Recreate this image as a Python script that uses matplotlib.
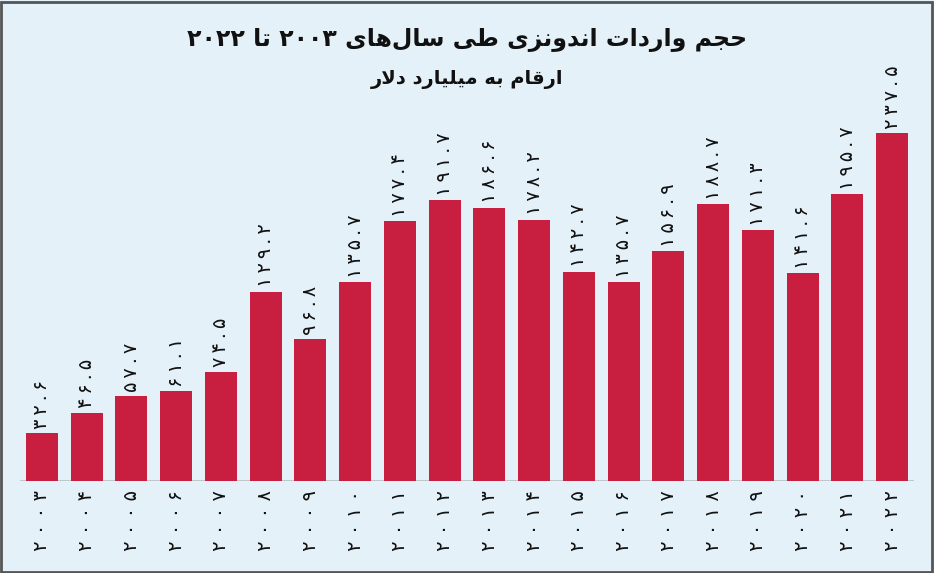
import matplotlib
matplotlib.use('Agg')
import matplotlib.pyplot as plt
from matplotlib.patches import Rectangle

years = [2003, 2004, 2005, 2006, 2007, 2008, 2009, 2010, 2011, 2012,
         2013, 2014, 2015, 2016, 2017, 2018, 2019, 2020, 2021, 2022]
imports = [32.6, 46.5, 57.7, 61.1, 74.5, 129.2, 96.8, 135.7, 177.4, 191.7,
           186.6, 178.2, 142.7, 135.7, 156.9, 188.7, 171.3, 141.6, 195.7, 237.5]
title = 'حجم واردات اندونزی طی سال\u200cهای ۲۰۰۳ تا ۲۰۲۲'
subtitle = 'ارقام به میلیارد دلار'

# --- minimal Persian shaping (matplotlib has no RTL / joining support) ---
# forms: isolated, final, initial, medial
FORMS = {
    'ا': ('\uFE8D', '\uFE8E'), 'د': ('\uFEA9', '\uFEAA'), 'ر': ('\uFEAD', '\uFEAE'),
    'ز': ('\uFEAF', '\uFEB0'), 'و': ('\uFEED', '\uFEEE'),
    'ب': ('\uFE8F', '\uFE90', '\uFE91', '\uFE92'), 'ت': ('\uFE95', '\uFE96', '\uFE97', '\uFE98'),
    'ج': ('\uFE9D', '\uFE9E', '\uFE9F', '\uFEA0'), 'ح': ('\uFEA1', '\uFEA2', '\uFEA3', '\uFEA4'),
    'س': ('\uFEB1', '\uFEB2', '\uFEB3', '\uFEB4'), 'ط': ('\uFEC1', '\uFEC2', '\uFEC3', '\uFEC4'),
    'ق': ('\uFED5', '\uFED6', '\uFED7', '\uFED8'), 'ل': ('\uFEDD', '\uFEDE', '\uFEDF', '\uFEE0'),
    'م': ('\uFEE1', '\uFEE2', '\uFEE3', '\uFEE4'), 'ن': ('\uFEE5', '\uFEE6', '\uFEE7', '\uFEE8'),
    'ه': ('\uFEE9', '\uFEEA', '\uFEEB', '\uFEEC'), 'ی': ('\uFEEF', '\uFEF0', '\uFEF3', '\uFEF4'),
}
DIGITS = '۰۱۲۳۴۵۶۷۸۹.'


def shape(s):
    s = s.replace('لا', '\uE000')  # lam-alef placeholder
    out = []
    for i, c in enumerate(s):
        key = 'ل' if c == '\uE000' else c
        if key not in FORMS:
            if c != '\u200c':
                out.append(c)
            continue
        p = s[i - 1] if i > 0 else ''
        n = s[i + 1] if i + 1 < len(s) else ''
        prev_join = p in FORMS and len(FORMS[p]) == 4
        if c == '\uE000':
            out.append('\uFEFC' if prev_join else '\uFEFB')
            continue
        next_join = len(FORMS[c]) == 4 and (n in FORMS or n == '\uE000')
        f = FORMS[c]
        if prev_join and next_join:
            out.append(f[3])
        elif prev_join:
            out.append(f[1])
        elif next_join:
            out.append(f[2])
        else:
            out.append(f[0])
    # reverse for right-to-left display, keep digit runs left-to-right
    rev = ''.join(reversed(out))
    res, run = '', ''
    for c in rev:
        if c in DIGITS:
            run += c
        else:
            res += run[::-1] + c
            run = ''
    return res + run[::-1]


def fa(x, sep=''):
    s = str(x).translate(str.maketrans('0123456789', '۰۱۲۳۴۵۶۷۸۹'))
    return sep.join(s)


bg = '#e5f1f9'
red = '#c81e3f'
plt.rcParams['font.family'] = ['DejaVu Sans']

fig = plt.figure(figsize=(9.34, 5.73), dpi=100, facecolor=bg)
ax = fig.add_axes([0.021, 0.1606, 0.958, 0.665])
ax.set_facecolor(bg)

x = list(range(len(years)))
ax.bar(x, imports, width=0.715, color=red, zorder=2)
ax.axhline(0, color='#b8bec4', lw=1.2, zorder=1)

for xi, v in zip(x, imports):
    ax.text(xi, v + 3, fa(v, '\u2009'), rotation=90, ha='center', va='bottom',
            fontsize=14, color='#111111', zorder=3)
    ax.text(xi, -6, fa(years[xi], ' '), rotation=90, ha='center', va='top',
            fontsize=14, color='#111111', zorder=3)

ax.set_xlim(-0.5, len(years) - 0.5)
ax.set_ylim(0, 260)
ax.axis('off')

fig.text(0.5, 0.93, shape(title), ha='center', va='center', fontsize=17,
         fontweight='bold', color='#111111')
fig.text(0.5, 0.862, shape(subtitle), ha='center', va='center', fontsize=14,
         fontweight='bold', color='#111111')

fig.patches.append(Rectangle((0.001, 0.002), 0.997, 0.995, transform=fig.transFigure,
                             fill=False, edgecolor='#555555', lw=2))

fig.savefig('out.png', dpi=100, facecolor=bg)
